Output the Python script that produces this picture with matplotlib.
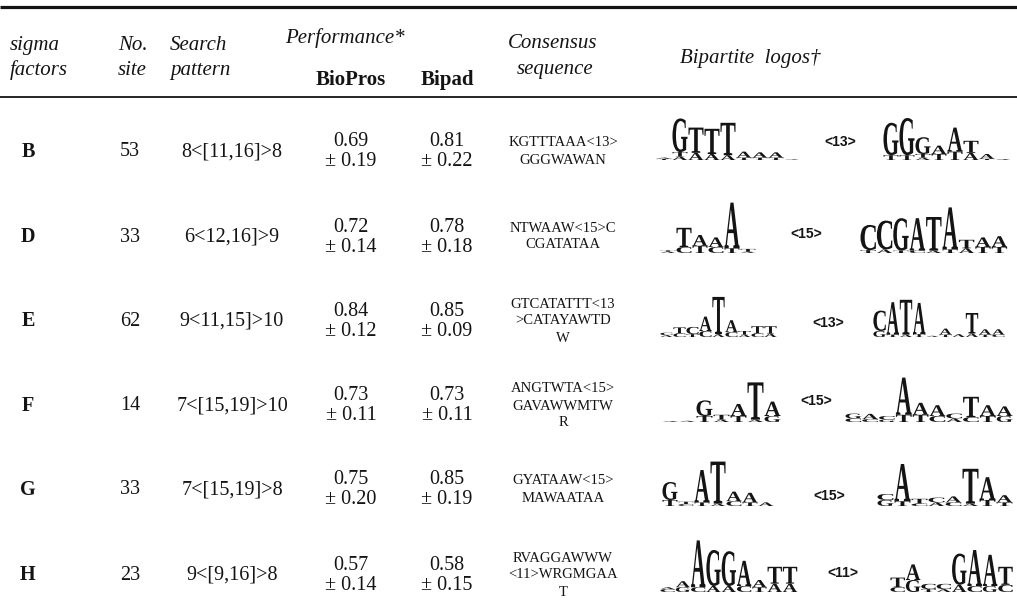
import matplotlib
matplotlib.use("Agg")
import matplotlib.pyplot as plt
from matplotlib.textpath import TextPath
from matplotlib.font_manager import FontProperties
from matplotlib.path import Path
from matplotlib.patches import PathPatch

# ---------------- table content ----------------
sigma_factors = ["B", "D", "E", "F", "G", "H"]
site_counts = [53, 33, 62, 14, 33, 23]
search_patterns = ["8<[11,16]>8", "6<12,16]>9", "9<11,15]>10",
                   "7<[15,19]>10", "7<[15,19]>8", "9<[9,16]>8"]
biopros_mean = [0.69, 0.72, 0.84, 0.73, 0.75, 0.57]
biopros_sd = [0.19, 0.14, 0.12, 0.11, 0.20, 0.14]
bipad_mean = [0.81, 0.78, 0.85, 0.73, 0.85, 0.58]
bipad_sd = [0.22, 0.18, 0.09, 0.11, 0.19, 0.15]
consensus = [
    ["KGTTTAAA<13>", "GGGWAWAN"],
    ["NTWAAW<15>C", "CGATATAA"],
    ["GTCATATTT<13", ">CATAYAWTD", "W"],
    ["ANGTWTA<15>", "GAVAWWMTW", "R"],
    ["GYATAAW<15>", "MAWAATAA"],
    ["RVAGGAWWW", "<11>WRGMGAA", "T"],
]
spacers = ["<13>", "<15>", "<13>", "<15>", "<15>", "<11>"]

# Sequence-logo columns: (letters bottom->top, information in bits)
logo_B_left = [("TA", [0.05, 0.05]), ("ATG", [0.15, 0.18, 1.4]), ("AT", [0.3, 1.05]),
               ("AT", [0.25, 1.05]), ("AT", [0.2, 1.35]), ("TA", [0.1, 0.25]),
               ("TA", [0.1, 0.22]), ("TA", [0.1, 0.22]), ("A", [0.03])]
logo_B_right = [("TG", [0.2, 1.35]), ("TG", [0.2, 1.55]), ("ATG", [0.1, 0.15, 0.7]),
                ("TA", [0.25, 0.35]), ("TA", [0.35, 1.0]), ("AT", [0.3, 0.5]),
                ("TA", [0.05, 0.2]), ("A", [0.04])]
logo_D_left = [("AT", [0.06, 0.05]), ("CT", [0.25, 0.8]), ("TA", [0.3, 0.45]),
               ("CA", [0.25, 0.4]), ("TA", [0.2, 1.9]), ("AT", [0.05, 0.12])]
logo_D_right = [("TC", [0.12, 1.05]), ("AC", [0.15, 1.2]), ("TG", [0.1, 1.35]),
                ("CA", [0.1, 1.35]), ("AT", [0.1, 1.4]), ("TA", [0.15, 1.75]),
                ("AT", [0.2, 0.35]), ("TA", [0.25, 0.4]), ("TA", [0.25, 0.45])]
logo_E_left = [("AC", [0.08, 0.1]), ("CT", [0.15, 0.25]), ("TC", [0.12, 0.3]),
               ("CA", [0.25, 0.6]), ("AT", [0.12, 1.55]), ("CA", [0.2, 0.5]),
               ("AT", [0.1, 0.15]), ("CT", [0.15, 0.3]), ("AT", [0.15, 0.3])]
logo_E_right = [("GC", [0.25, 0.85]), ("TA", [0.1, 1.35]), ("AT", [0.1, 1.45]),
                ("TA", [0.12, 1.3]), ("A", [0.05]), ("TA", [0.1, 0.25]),
                ("A", [0.12]), ("AT", [0.15, 0.85]), ("TA", [0.1, 0.22]),
                ("CA", [0.1, 0.22])]
logo_F_left = [("A", [0.04]), ("A", [0.05]), ("TG", [0.25, 0.65]), ("AT", [0.1, 0.2]),
               ("TA", [0.25, 0.5]), ("AT", [0.1, 1.55]), ("GA", [0.25, 0.6])]
logo_F_right = [("CG", [0.15, 0.2]), ("CA", [0.12, 0.22]), ("GC", [0.1, 0.15]),
                ("TA", [0.3, 1.55]), ("TA", [0.3, 0.5]), ("CA", [0.25, 0.45]),
                ("AC", [0.15, 0.2]), ("CT", [0.2, 0.85]), ("TA", [0.25, 0.45]),
                ("GA", [0.25, 0.4])]
logo_G_left = [("TG", [0.25, 0.75]), ("CT", [0.08, 0.1]), ("TA", [0.15, 1.35]),
               ("AT", [0.1, 1.75]), ("CA", [0.2, 0.4]), ("TA", [0.15, 0.4]),
               ("A", [0.15])]
logo_G_right = [("GC", [0.25, 0.25]), ("TA", [0.2, 1.55]), ("CT", [0.1, 0.2]),
                ("AC", [0.15, 0.2]), ("CA", [0.15, 0.25]), ("AT", [0.1, 1.45]),
                ("TA", [0.25, 0.95]), ("TA", [0.15, 0.3])]
logo_H_left = [("CA", [0.12, 0.08]), ("GA", [0.2, 0.25]), ("CA", [0.2, 1.95]),
               ("AG", [0.25, 1.5]), ("AG", [0.25, 1.45]), ("CA", [0.25, 1.05]),
               ("TA", [0.2, 0.3]), ("AT", [0.35, 0.7]), ("AT", [0.35, 0.7])]
logo_H_right = [("CT", [0.2, 0.4]), ("GA", [0.5, 0.65]), ("TC", [0.12, 0.22]),
                ("AC", [0.12, 0.22]), ("AG", [0.3, 1.3]), ("CA", [0.25, 1.5]),
                ("GA", [0.25, 1.3]), ("CT", [0.3, 0.75])]

logos = [(logo_B_left, logo_B_right), (logo_D_left, logo_D_right),
         (logo_E_left, logo_E_right), (logo_F_left, logo_F_right),
         (logo_G_left, logo_G_right), (logo_H_left, logo_H_right)]

# ---------------- layout (pixel coordinates) ----------------
W, H = 1017, 602
row_y = [152, 237, 321, 406, 490, 575]
# left x, left column width, spacer centre x, right x, right column width
logo_layout = [(656, 16.0, 840, 883, 16.0),
               (660, 16.0, 806, 860, 16.4),
               (660, 13.0, 828, 873, 13.2),
               (662, 17.0, 816, 845, 16.8),
               (662, 16.0, 829, 877, 17.0),
               (660, 15.3, 843, 890, 15.4)]
logo_base_offset = [8, 16, 16, 16, 16, 17]
spacer_offset = [-10, -3, 2, -5, 6, -2]
PX_PER_BIT = 24.0
INK = "#141414"

SERIF = "Liberation Serif"
fp_logo = FontProperties(family=SERIF, weight="bold")

fig = plt.figure(figsize=(W / 100, H / 100), dpi=100)
ax = fig.add_axes([0, 0, 1, 1])
ax.set_xlim(0, W)
ax.set_ylim(H, 0)
ax.axis("off")

# horizontal rules
ax.plot([0, W], [7, 7], color=INK, lw=2.3, solid_capstyle="butt")
ax.plot([0, W], [97, 97], color=INK, lw=1.3, solid_capstyle="butt")

hdr = dict(family=SERIF, style="italic", fontsize=15, color=INK, va="baseline")
ax.text(10, 50, "sigma", ha="left", **hdr)
ax.text(10, 75, "factors", ha="left", **hdr)
ax.text(118, 50, "No.", ha="left", **hdr)
ax.text(118, 75, "site", ha="left", **hdr)
ax.text(170, 50, "Search", ha="left", **hdr)
ax.text(170, 75, "pattern", ha="left", **hdr)
ax.text(285, 43, "Performance*", ha="left", **hdr)
ax.text(553, 48, "Consensus", ha="center", **hdr)
ax.text(555, 74, "sequence", ha="center", **hdr)
ax.text(680, 63, "Bipartite  logos†", ha="left", **hdr)
bold_hdr = dict(family=SERIF, weight="bold", fontsize=15, color=INK, va="baseline")
ax.text(351, 85, "BioPros", ha="center", **bold_hdr)
ax.text(447, 85, "Bipad", ha="center", **bold_hdr)

cell = dict(family=SERIF, fontsize=14.5, color=INK, va="center", ha="center")
cons_style = dict(family=SERIF, fontsize=10.5, color=INK, va="center", ha="center")


def draw_letter(ch, x, y_base, w, h):
    tp = TextPath((0, 0), ch, size=100, prop=fp_logo)
    bb = tp.get_extents()
    v = tp.vertices.copy()
    v[:, 0] = x + (v[:, 0] - bb.x0) / bb.width * w
    v[:, 1] = y_base - (v[:, 1] - bb.y0) / bb.height * h
    ax.add_patch(PathPatch(Path(v, tp.codes), fc=INK, ec="none", lw=0))


def draw_logo(columns, x0, col_w, y_base):
    for i, (letters, bits) in enumerate(columns):
        y = y_base
        for ch, b in zip(letters, bits):
            h = b * PX_PER_BIT
            draw_letter(ch, x0 + i * col_w + 0.03 * col_w, y, 0.94 * col_w, h)
            y -= h


for r, yc in enumerate(row_y):
    ax.text(28, yc, sigma_factors[r], family=SERIF, weight="bold", fontsize=14.5,
            color=INK, va="center", ha="center")
    ax.text(130, yc, str(site_counts[r]), **cell)
    ax.text(232, yc, search_patterns[r], **cell)
    ax.text(351, yc - 10, f"{biopros_mean[r]:.2f}", **cell)
    ax.text(351, yc + 10, f"± {biopros_sd[r]:.2f}", **cell)
    ax.text(447, yc - 10, f"{bipad_mean[r]:.2f}", **cell)
    ax.text(447, yc + 10, f"± {bipad_sd[r]:.2f}", **cell)

    lines = consensus[r]
    n = len(lines)
    step = 17
    top = yc - 9 if n == 2 else yc - step
    for k, line in enumerate(lines):
        ax.text(563, top + k * step, line, **cons_style)

    lx, lw_, sx, rx, rw = logo_layout[r]
    left, right = logos[r]
    base = yc + logo_base_offset[r]
    draw_logo(left, lx, lw_, base)
    draw_logo(right, rx, rw, base)
    ax.text(sx, yc + spacer_offset[r], spacers[r], family="Liberation Sans",
            weight="bold", fontsize=10, color=INK, va="center", ha="center")

fig.savefig("out.png", dpi=100, facecolor="white")
